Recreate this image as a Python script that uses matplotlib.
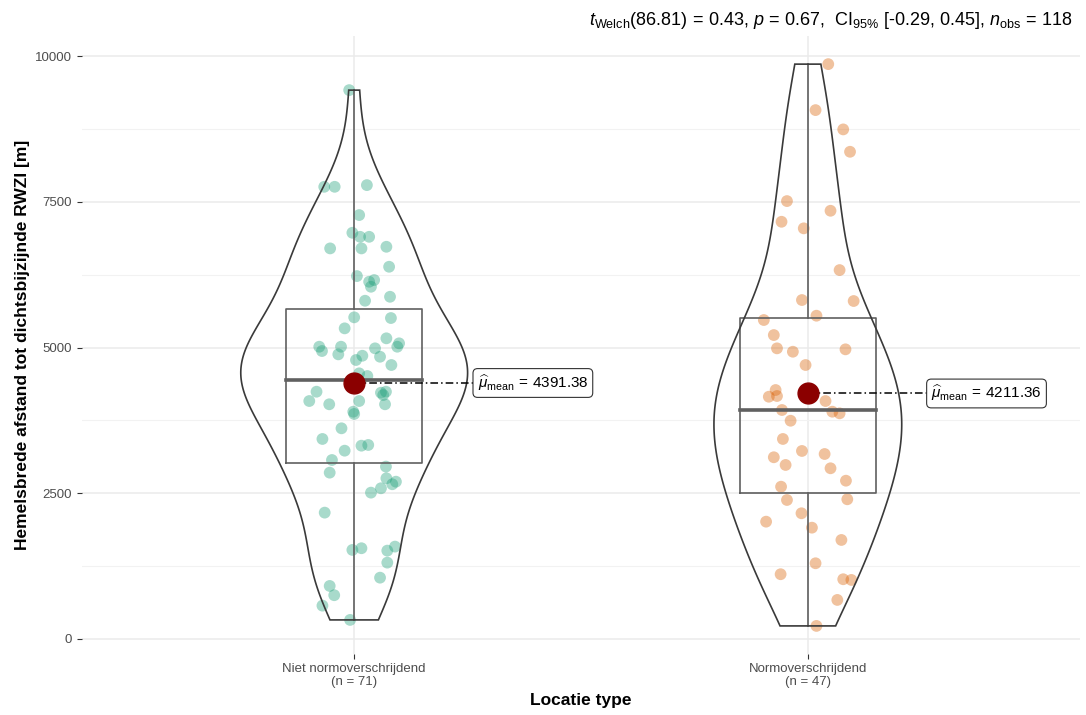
import numpy as np
import matplotlib.pyplot as plt
from matplotlib.patches import Polygon

plt.rcParams['font.family'] = ['Liberation Sans', 'DejaVu Sans']
plt.rcParams['mathtext.fontset'] = 'custom'
plt.rcParams['mathtext.rm'] = 'Liberation Sans'
plt.rcParams['mathtext.it'] = 'Liberation Sans:italic'

groups = ['Niet normoverschrijdend', 'Normoverschrijdend']
colors = ['#1B9E77', '#D95F02']

# afstand tot RWZI [m] per groep
afstand_niet = [9417, 7758, 7758, 7787, 7273, 6969, 6900, 6900, 6701, 6701,
                6729, 6386, 6226, 6129, 6158, 6043, 5871, 5803, 5518, 5506,
                5329, 5158, 5072, 5014, 5014, 4986, 5014, 4940, 4883, 4786,
                4859, 4842, 4700, 4557, 4511, 4242, 4082, 4026, 4082, 3899,
                3860, 4225, 4242, 4185, 4026, 3614, 3431, 3230, 3316, 3328,
                3070, 2853, 2957, 2756, 2654, 2698, 2585, 2510, 2167, 1527,
                1556, 1515, 1584, 1309, 1051, 909, 750, 571, 326, 4400, 4450]
afstand_norm = [9863, 9074, 8743, 8359, 7513, 7158, 7347, 7045, 6329, 5815,
                5798, 5546, 5472, 5214, 4986, 4928, 4969, 4700, 4271, 4156,
                4168, 4082, 3899, 3871, 3928, 3744, 3431, 3225, 3117, 3173,
                2985, 2928, 2715, 2612, 2384, 2396, 2156, 2012, 1909, 1698,
                1298, 1110, 1024, 1012, 669, 223, 4250]

# horizontale spreiding van de punten
jitter_niet = [-0.011, -0.066, -0.043, 0.028, 0.011, -0.004, 0.013, 0.033, -0.053, 0.016,
               0.071, 0.077, 0.006, 0.033, 0.044, 0.037, 0.079, 0.024, 0.000, 0.081,
               -0.021, 0.071, 0.099, -0.077, -0.029, 0.046, 0.095, -0.071, -0.035, 0.004,
               0.018, 0.057, 0.082, 0.011, 0.029, -0.083, -0.099, -0.055, 0.011, -0.002,
               0.000, 0.059, 0.070, 0.064, 0.068, -0.028, -0.070, -0.021, 0.016, 0.031,
               -0.049, -0.054, 0.070, 0.071, 0.084, 0.092, 0.059, 0.037, -0.065, -0.004,
               0.016, 0.073, 0.090, 0.073, 0.057, -0.054, -0.044, -0.070, -0.009, 0.000, 0.005]
jitter_norm = [0.045, 0.017, 0.078, 0.093, -0.046, -0.058, 0.050, -0.009, 0.070, -0.013,
               0.101, 0.019, -0.097, -0.075, -0.068, -0.033, 0.083, -0.005, -0.071, -0.086,
               -0.068, 0.039, 0.054, 0.070, -0.057, -0.038, -0.055, -0.013, -0.075, 0.037,
               -0.049, 0.050, 0.084, -0.059, -0.046, 0.087, -0.014, -0.092, 0.009, 0.074,
               0.017, -0.060, 0.078, 0.096, 0.065, 0.019, 0.000]

means = [4391.38, 4211.36]
subtitle = (r'$t_{\mathrm{Welch}}$(86.81)$\,=\,$0.43, $p\,=\,$0.67,  '
            r'CI$_{95\%}$ [-0.29, 0.45], $n_{\mathrm{obs}}\,=\,$118')

data = [np.array(afstand_niet, float), np.array(afstand_norm, float)]
jitters = [np.array(jitter_niet), np.array(jitter_norm)]


def bw_nrd0(x):
    q1, q3 = np.percentile(x, [25, 75])
    return 0.9 * min(np.std(x, ddof=1), (q3 - q1) / 1.34) * len(x) ** -0.2


def density(x, n=512):
    grid = np.linspace(x.min(), x.max(), n)
    bw = bw_nrd0(x)
    z = (grid[:, None] - x[None, :]) / bw
    d = np.exp(-0.5 * z ** 2).sum(axis=1) / (len(x) * bw * np.sqrt(2 * np.pi))
    return grid, d


fig = plt.figure(figsize=(10.86, 7.15), dpi=100)
ax = fig.add_axes([0.0755, 0.0853, 0.919, 0.8643])

ax.set_xlim(0.4, 2.6)
ax.set_ylim(-259, 10345)
ax.set_yticks([0, 2500, 5000, 7500, 10000])
ax.set_yticks([1250, 3750, 6250, 8750], minor=True)
ax.set_xticks([1, 2])
ax.grid(True, which='major', color='#EBEBEB', lw=1.1, zorder=0)
ax.grid(True, which='minor', axis='y', color='#F2F2F2', lw=0.8, zorder=0)
ax.set_axisbelow(True)
for s in ax.spines.values():
    s.set_visible(False)

dens = [density(d) for d in data]
dmax = max(d.max() for _, d in dens)

for i, (vals, jit) in enumerate(zip(data, jitters)):
    xc = i + 1
    # punten
    ax.scatter(xc + jit, vals, s=72, color=colors[i], alpha=0.38,
               edgecolors='none', zorder=2)

    # boxplot
    q1, med, q3 = np.percentile(vals, [25, 50, 75])
    iqr = q3 - q1
    lo = vals[vals >= q1 - 1.5 * iqr].min()
    hi = vals[vals <= q3 + 1.5 * iqr].max()
    bw = 0.15
    ax.plot([xc - bw, xc + bw, xc + bw, xc - bw, xc - bw],
            [q1, q1, q3, q3, q1], color='#606060', lw=1.2, zorder=3)
    ax.plot([xc - bw, xc + bw], [med, med], color='#606060', lw=2.6, zorder=3)
    ax.plot([xc, xc], [q3, hi], color='#606060', lw=1.2, zorder=3)
    ax.plot([xc, xc], [lo, q1], color='#606060', lw=1.2, zorder=3)

    # violin (scale = area)
    grid, d = dens[i]
    w = d / dmax * 0.25
    xs = np.concatenate([xc - w, (xc + w)[::-1]])
    ys = np.concatenate([grid, grid[::-1]])
    ax.add_patch(Polygon(np.column_stack([xs, ys]), closed=True, fill=False,
                         edgecolor='#3A3A3A', lw=1.2, zorder=4))

    # gemiddelde
    m = means[i]
    ax.plot([xc, xc + 0.265], [m, m], color='black', lw=1.1,
            ls=(0, (5, 2, 1, 2)), zorder=5)
    ax.plot(xc, m, 'o', color='#8B0000', ms=15, zorder=6)
    ax.text(xc + 0.272, m,
            r'$\widehat{\mu}_{\mathrm{mean}}\,=\,$' + f'{m:.2f}',
            fontsize=11, va='center', ha='left', zorder=7,
            bbox=dict(boxstyle='round,pad=0.3,rounding_size=0.3',
                      fc='white', ec='#333333', lw=0.8))

ax.set_xticklabels([f'{g}\n(n = {len(d)})' for g, d in zip(groups, data)],
                   fontsize=9.5, color='#4D4D4D', linespacing=1.15)
ax.tick_params(axis='y', labelsize=9.5, labelcolor='#4D4D4D', color='#333333',
               length=3.5, width=0.8)
ax.tick_params(axis='y', which='minor', length=0)
ax.tick_params(axis='x', color='#333333', length=3.5, width=0.8, pad=3)

ax.set_ylabel('Hemelsbrede afstand tot dichtsbijzijnde RWZI [m]',
              fontsize=12.5, fontweight='bold', labelpad=4)
ax.set_xlabel('Locatie type', fontsize=12.5, fontweight='bold', labelpad=3)

fig.text(0.988, 0.972, subtitle, fontsize=13, ha='right', va='center')

fig.savefig('out.png', dpi=100)
